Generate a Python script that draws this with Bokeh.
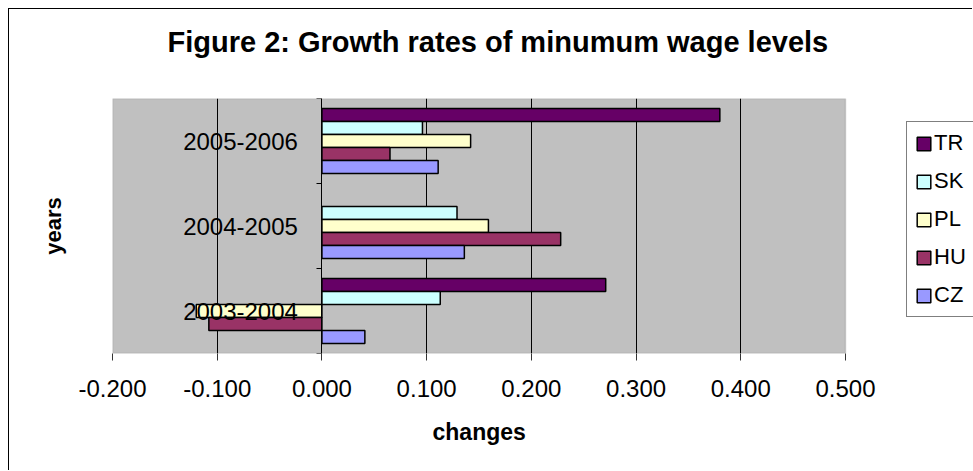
import numpy as np
from bokeh.plotting import figure
from bokeh.models import (ColumnDataSource, Range1d, FixedTicker,
                          PrintfTickFormatter, LinearAxis, BoxAnnotation,
                          Legend, LegendItem, Title)
from bokeh.transform import dodge
from bokeh.embed import file_html
from bokeh.resources import INLINE

# ---- data ----
years = ["2003-2004", "2004-2005", "2005-2006"]
series = ["TR", "SK", "PL", "HU", "CZ"]
TR = [0.271, np.nan, 0.380]
SK = [0.113, 0.129, 0.096]
PL = [-0.120, 0.159, 0.142]
HU = [-0.108, 0.228, 0.065]
CZ = [0.041, 0.136, 0.111]
colors = ["#660066", "#CCFFFF", "#FFFFCC", "#993366", "#9999FF"]
x_ticks = [-0.2, -0.1, 0.0, 0.1, 0.2, 0.3, 0.4, 0.5]
title_text = "Figure 2: Growth rates of minumum wage levels"
x_title = "changes"
y_title = "years"

FONT = "Liberation Sans"

centers = [i + 0.5 for i in range(len(years))]
bounds = [float(i) for i in range(len(years) + 1)]
src = ColumnDataSource(dict(year=years, pos=centers, TR=np.array(TR), SK=np.array(SK),
                            PL=np.array(PL), HU=np.array(HU), CZ=np.array(CZ)))

# plot area spans -0.2..0.5 over 733 px; the frame continues to the right edge
# so that the legend can sit beside it
x_lo, x_hi = x_ticks[0], x_ticks[-1]
x_end = x_lo + (x_hi - x_lo) * 861.0 / 733.0

p = figure(width=964, height=462, output_backend="svg", toolbar_location=None,
           x_range=Range1d(x_lo, x_end),
           y_range=Range1d(0, len(years)),
           y_axis_location=None,
           min_border_left=103, min_border_right=0,
           min_border_top=89, min_border_bottom=118)

p.styles = {"margin": "8px 0 0 8px",
            "border-left": "1px solid #000000", "border-top": "1px solid #000000"}

p.background_fill_color = "white"
p.border_fill_color = "white"
p.outline_line_color = None

plot_area = BoxAnnotation(left=x_lo, right=x_hi, fill_color="#C0C0C0", fill_alpha=1,
                          line_color="#808080", line_width=1.5, level="image")
p.add_layout(plot_area)

# title: a blank spacer next to the frame, then the title text above it
spacer = Title(text=" ", text_font=FONT, text_font_size="10px", standoff=28)
p.add_layout(spacer, "above")
main_title = Title(text=title_text, align="left", offset=55, standoff=0,
                   text_font=FONT, text_font_size="29px", text_font_style="bold",
                   text_color="black")
p.add_layout(main_title, "above")

# x axis
xa = p.xaxis[0]
xa.ticker = FixedTicker(ticks=x_ticks)
xa.formatter = PrintfTickFormatter(format="%.3f")
xa.axis_line_color = None
xa.major_tick_out = 7
xa.major_tick_in = 0
xa.major_tick_line_color = "#333333"
xa.minor_tick_line_color = None
xa.major_label_text_font = FONT
xa.major_label_text_font_size = "24px"
xa.major_label_text_color = "black"
xa.major_label_standoff = 19

x_label = Title(text=x_title, align="left", offset=320, standoff=34,
                text_font=FONT, text_font_size="23px", text_font_style="bold",
                text_color="black")
p.add_layout(x_label, "below")

p.xgrid.ticker = FixedTicker(ticks=x_ticks[1:-1])
p.xgrid.grid_line_color = "black"
p.xgrid.grid_line_width = 1
for g in p.ygrid:
    g.visible = False

# y axis title (outer)
ya_title = LinearAxis(ticker=FixedTicker(ticks=[]),
                      axis_label=y_title, axis_line_color=None,
                      major_tick_line_color=None, minor_tick_line_color=None,
                      axis_label_text_font=FONT, axis_label_text_font_size="22px",
                      axis_label_text_font_style="bold", axis_label_text_color="black",
                      axis_label_standoff=47)
p.add_layout(ya_title, "left")

# category axis on the zero line: labels at group centres, ticks at group bounds
ya_cat = LinearAxis(ticker=FixedTicker(ticks=centers, minor_ticks=bounds),
                    major_label_overrides={c: y for c, y in zip(centers, years)},
                    fixed_location=0, axis_line_color="black", axis_line_width=1,
                    major_tick_line_color=None, major_tick_out=0, major_tick_in=0,
                    minor_tick_line_color="black", minor_tick_out=5, minor_tick_in=0,
                    major_label_standoff=19, major_label_text_font=FONT,
                    major_label_text_font_size="24px", major_label_text_color="black")
p.add_layout(ya_cat, "left")

# bars
step = 0.153
offsets = [2 * step, step, 0.0, -step, -2 * step]
items = []
for name, col, off in zip(series, colors, offsets):
    r = p.hbar(y=dodge("pos", off), left=0, right=name,
               height=step, source=src, fill_color=col,
               line_color="black", line_width=1.5)
    items.append(LegendItem(label=name, renderers=[r]))

legend = Legend(items=items, location=(794, 36), margin=0, padding=8,
                spacing=12, glyph_width=17, glyph_height=17, label_standoff=2,
                label_text_font=FONT, label_text_font_size="22px",
                label_text_color="black",
                label_height=24, border_line_color="black", border_line_width=1,
                background_fill_color="white", background_fill_alpha=1)
p.add_layout(legend)

open("out.html", "w").write(file_html(p, INLINE))
